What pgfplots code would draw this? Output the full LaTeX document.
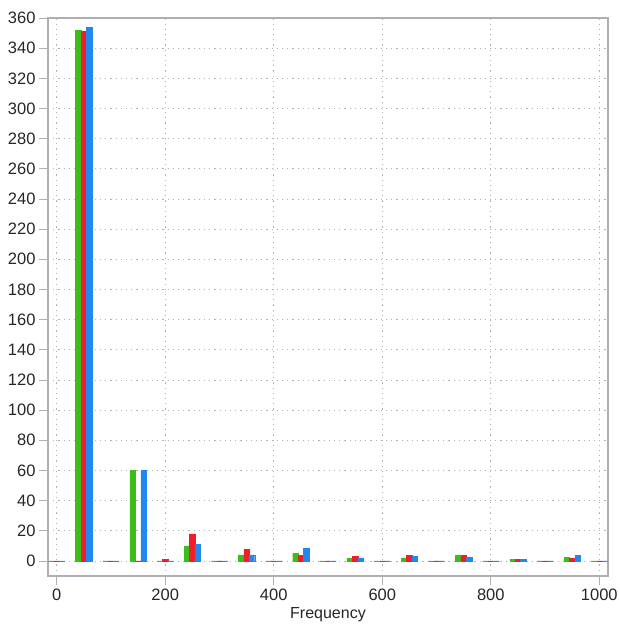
\documentclass[border=0pt]{standalone}
\usepackage{fontspec}
\setmainfont{Liberation Sans}
\usepackage{pgfplots}
\pgfplotsset{compat=1.18}
\definecolor{cg}{RGB}{60,190,25}
\definecolor{cr}{RGB}{240,30,40}
\definecolor{cb}{RGB}{35,135,240}
\definecolor{fr}{RGB}{175,175,175}
\begin{document}
\begin{tikzpicture}
\useasboundingbox (0pt,0pt) rectangle (619pt,-624pt);
\begin{axis}[
  at={(48pt,-18pt)}, anchor=north west,
  scale only axis, width=560pt, height=558pt,
  xmin=-16, xmax=1016, ymin=-10, ymax=360,
  xtick={0,200,...,1000}, ytick={0,20,...,360},
  axis line style={fr, line width=1.2pt},
  tick style={fr, line width=0.8pt},
  tick align=outside, major tick length=9pt,
  xtick pos=bottom, ytick pos=left,
  grid=major,
  major grid style={dash pattern=on 1.2pt off 4pt, gray!60, line width=0.8pt},
  /pgf/number format/assume math mode=true,
  /pgf/number format/1000 sep={},
  ticklabel style={font=\fontsize{16.5}{18}\selectfont, text=black!85},
  xlabel={\fontsize{16}{18}\selectfont Frequency}, xlabel style={yshift=0pt, text=black!85},
  ybar=0pt, bar width=10,
  every axis plot/.append style={line width=0.4pt},
]
\addplot[fill=cg, draw=cg] coordinates {(0,0) (50,352) (100,0) (150,60) (200,0) (250,10) (300,0) (350,4) (400,0) (450,5) (500,0) (550,1.5) (600,0) (650,2) (700,0) (750,3.5) (800,0) (850,1.2) (900,0) (950,2.3) (1000,0)};
\addplot[fill=cr, draw=cr] coordinates {(0,0) (50,351) (100,0) (150,0) (200,1) (250,18) (300,0) (350,7.5) (400,0) (450,3.5) (500,0) (550,3) (600,0) (650,3.5) (700,0) (750,3.5) (800,0) (850,1.2) (900,0) (950,1.5) (1000,0)};
\addplot[fill=cb, draw=cb] coordinates {(0,0) (50,354) (100,0) (150,60) (200,0) (250,11) (300,0) (350,4) (400,0) (450,8.5) (500,0) (550,2) (600,0) (650,3) (700,0) (750,2.2) (800,0) (850,1.2) (900,0) (950,3.5) (1000,0)};
\end{axis}
\end{tikzpicture}
\end{document}
